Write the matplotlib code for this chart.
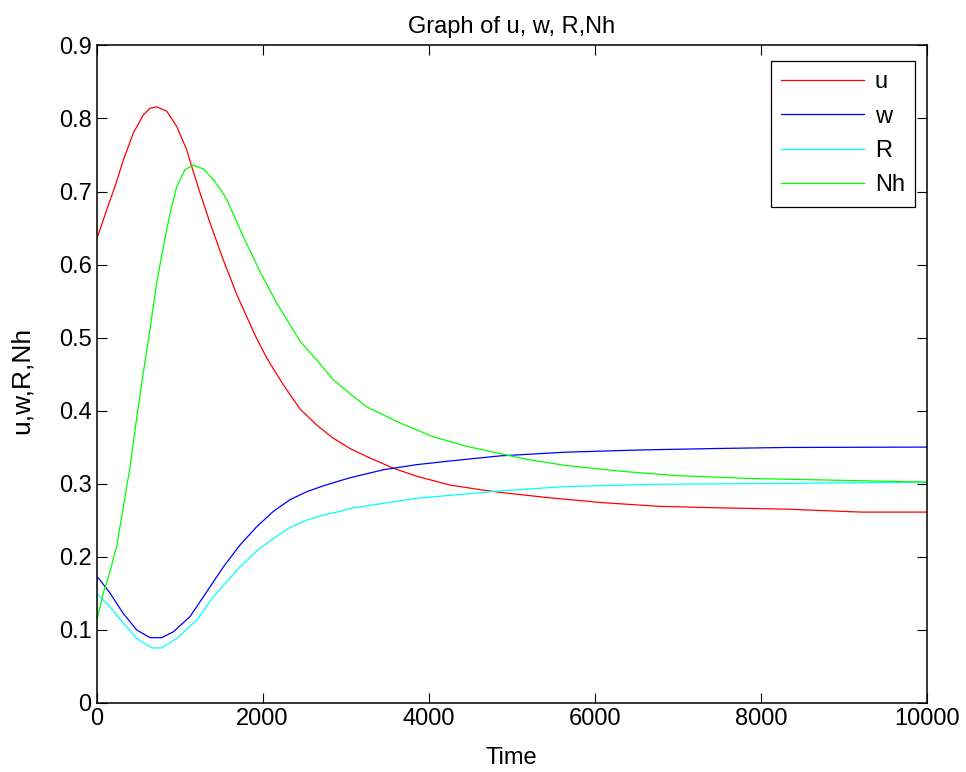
import matplotlib
matplotlib.use("Agg")
from matplotlib import pyplot as plt

plt.rcParams['font.family'] = ['Liberation Sans', 'DejaVu Sans']

# values
t_u = [0, 2, 22, 123, 223, 323, 443, 564, 645, 725, 846, 966, 1087, 1147, 1247, 1367,
       1528, 1689, 1910, 2050, 2251, 2452, 2653, 2853, 3054, 3255, 3576, 3858, 4259, 4660,
       4861, 5417, 6085, 6754, 7423, 8315, 9207, 10000]
u = [0.677, 0.638, 0.641, 0.675, 0.707, 0.743, 0.780, 0.805, 0.814, 0.816, 0.810, 0.789,
     0.757, 0.734, 0.698, 0.657, 0.606, 0.559, 0.503, 0.472, 0.435, 0.402, 0.380, 0.362,
     0.348, 0.337, 0.321, 0.310, 0.298, 0.291, 0.288, 0.281, 0.274, 0.269, 0.267, 0.265,
     0.261, 0.261]

t_w = [0, 1, 42, 163, 323, 484, 645, 785, 925, 1127, 1328, 1528, 1729, 1930, 2130, 2331,
       2533, 2733, 2934, 3054, 3455, 3858, 4259, 4861, 5640, 6531, 7423, 8315, 10000]
w = [0.127, 0.173, 0.168, 0.150, 0.122, 0.0996, 0.089, 0.089, 0.097, 0.118, 0.152, 0.186,
     0.216, 0.241, 0.262, 0.278, 0.289, 0.297, 0.304, 0.308, 0.319, 0.326, 0.331, 0.338,
     0.343, 0.346, 0.348, 0.3495, 0.350]

t_r = [0, 1, 22, 163, 323, 484, 665, 785, 966, 1207, 1407, 1729, 1930, 2130, 2331, 2533,
       2733, 2934, 3054, 3455, 3858, 4259, 4861, 5640, 6754, 7869, 10000]
r = [0.04, 0.1475, 0.1475, 0.131, 0.109, 0.088, 0.075, 0.075, 0.088, 0.113, 0.145, 0.186,
     0.208, 0.225, 0.240, 0.250, 0.257, 0.262, 0.266, 0.273, 0.280, 0.284, 0.290, 0.296,
     0.299, 0.300, 0.302]

t_nh = [0, 82, 163, 243, 323, 404, 484, 564, 645, 725, 805, 886, 966, 1066, 1166, 1287,
        1407, 1488, 1569, 1769, 1970, 2171, 2452, 2653, 2853, 3054, 3255, 3657, 4058, 4460,
        4861, 5193, 5640, 6308, 6977, 7869, 8761, 10000]
nh = [0.111, 0.150, 0.180, 0.214, 0.268, 0.323, 0.390, 0.452, 0.512, 0.575, 0.625, 0.670,
      0.707, 0.730, 0.736, 0.731, 0.716, 0.704, 0.689, 0.638, 0.590, 0.547, 0.495, 0.469,
      0.442, 0.423, 0.405, 0.383, 0.364, 0.351, 0.341, 0.333, 0.325, 0.317, 0.311, 0.307,
      0.305, 0.302]

fig = plt.figure(figsize=(9.66, 7.72), dpi=100)
ax = fig.add_axes([0.0999, 0.0898, 0.8597, 0.8513])

ax.plot(t_u, u, color='#ff0000', lw=0.9, label='u')
ax.plot(t_w, w, color='#0000ff', lw=0.9, label='w')
ax.plot(t_r, r, color='#00ffff', lw=0.9, label='R')
ax.plot(t_nh, nh, color='#00ff00', lw=0.9, label='Nh')

ax.set_xlim(0, 10000)
ax.set_ylim(0, 0.9)
ax.set_xticks(range(0, 10001, 2000))
ax.set_yticks([i / 10 for i in range(10)])
ax.set_yticklabels(['0'] + ['0.%d' % i for i in range(1, 10)])
ax.tick_params(direction='in', top=True, right=True, labelsize=17, length=7)
for s in ax.spines.values():
    s.set_linewidth(1.1)

ax.set_title('Graph of u, w, R,Nh', fontsize=17, pad=9)
ax.set_xlabel('Time', fontsize=17)
ax.set_ylabel('u,w,R,Nh', fontsize=19)
ax.xaxis.set_label_coords(0.5, -0.068)
ax.yaxis.set_label_coords(-0.076, 0.49)

leg = ax.legend(loc='upper right', bbox_to_anchor=(0.9859, 0.9769), fontsize=17,
                fancybox=False, edgecolor='black', framealpha=1, handlelength=3.5,
                handletextpad=0.45, borderpad=0.45, labelspacing=0.52, borderaxespad=0)
leg.get_frame().set_linewidth(0.9)

plt.savefig('out.png', dpi=100)
